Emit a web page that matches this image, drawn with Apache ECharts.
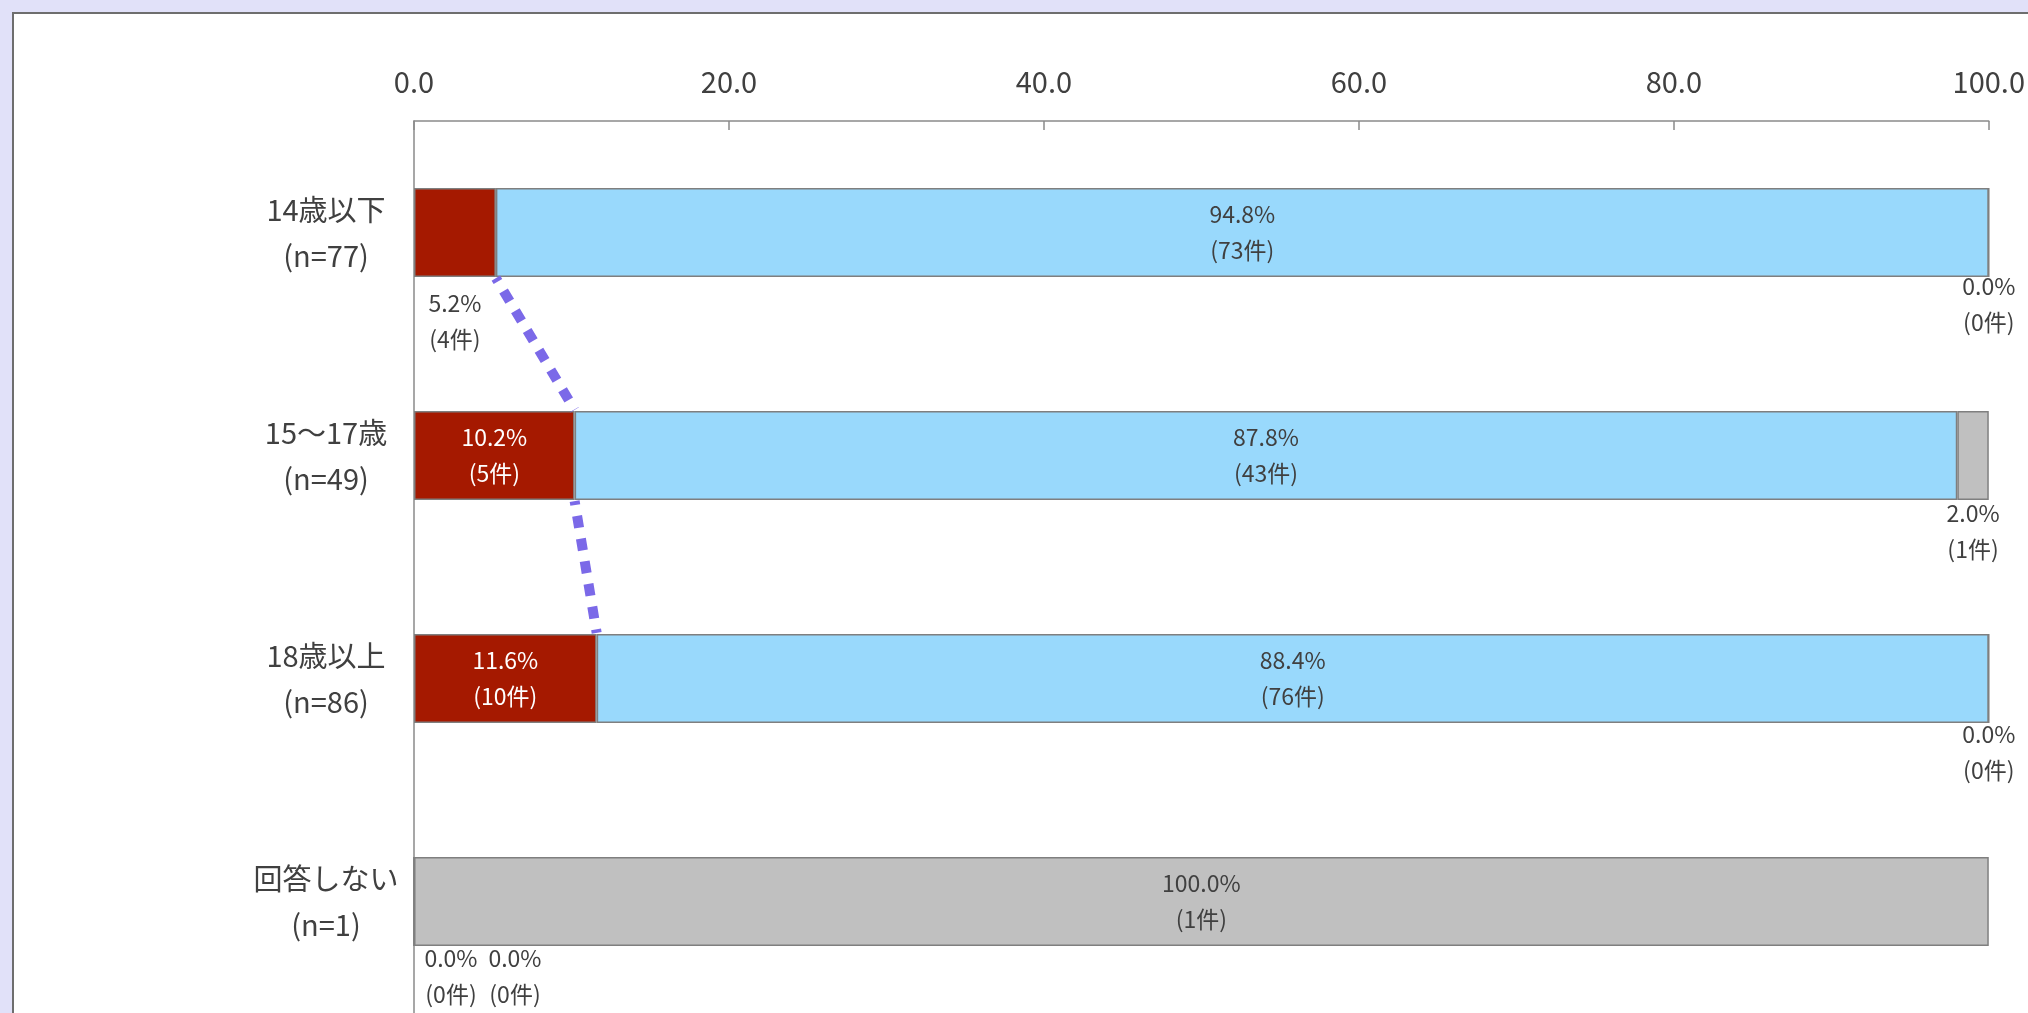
<!DOCTYPE html>
<html>
<head>
<meta charset="utf-8">
<script src="https://cdn.jsdelivr.net/npm/echarts@6/dist/echarts.min.js"></script>
<style>
  html, body { margin:0; padding:0; width:2028px; height:1013px; overflow:hidden; background:#e1e1f9; }
  #panel { position:absolute; left:12px; top:12px; width:2040px; height:1040px; background:#ffffff; border:2px solid #6e6e6e; box-sizing:border-box; }
  #chart { position:absolute; left:0; top:0; width:2028px; height:1013px; }
</style>
</head>
<body>
<div id="panel"></div>
<div id="chart"></div>
<script>
// ---- data ----
const categories = ['14歳以下', '15～17歳', '18歳以上', '回答しない'];
const sampleSizes = [77, 49, 86, 1];
const seriesNames = ['はい', 'いいえ', '無回答'];
const pctYes = [5.2, 10.2, 11.6, 0.0];
const cntYes = [4, 5, 10, 0];
const pctNo = [94.8, 87.8, 88.4, 0.0];
const cntNo = [73, 43, 76, 0];
const pctNA = [0.0, 2.0, 0.0, 100.0];
const cntNA = [0, 1, 0, 1];
const xTicks = { min: 0, max: 100, interval: 20 };

// ---- styling ----
const FONT = '"Noto Sans CJK JP", "Noto Sans", sans-serif';
const TXT = '#404040';
const colors = ['#a51900', '#99d9fc', '#c0c0c0'];
const BORDER = '#7f7f7f';

// label placement per series/category (style only)
const placements = [
  [ {pos:'bottom', dist:8, color:TXT}, {pos:'inside', color:'#ffffff'}, {pos:'inside', color:'#ffffff'}, {pos:'bottom', dist:-7, color:TXT, offset:[37,0]} ],
  [ {pos:'inside', color:TXT}, {pos:'inside', color:TXT}, {pos:'inside', color:TXT}, {pos:'bottom', dist:-7, color:TXT, offset:[101,0]} ],
  [ {pos:'bottom', dist:-10, color:TXT}, {pos:'bottom', dist:-5, color:TXT}, {pos:'bottom', dist:-8, color:TXT}, {pos:'inside', color:TXT} ]
];

function buildData(pcts, cnts, sIdx) {
  return pcts.map((v, i) => {
    const p = placements[sIdx][i];
    return {
      value: v,
      count: cnts[i],
      label: {
        show: true,
        position: p.pos,
        distance: p.dist !== undefined ? p.dist : 5,
        offset: p.offset || [0, 0],
        color: p.color
      }
    };
  });
}

function barSeries(name, pcts, cnts, sIdx) {
  return {
    name: name,
    type: 'bar',
    stack: 'total',
    barCategoryGap: '60%',
    data: buildData(pcts, cnts, sIdx),
    itemStyle: { color: colors[sIdx], borderColor: BORDER, borderWidth: 1.5 },
    label: {
      show: true,
      fontFamily: FONT,
      fontSize: 23,
      lineHeight: 36,
      align: 'center',
      formatter: (p) => p.value.toFixed(1) + '%\n(' + p.data.count + '件)'
    },
    emphasis: { disabled: true },
    silent: true,
    z: 2
  };
}

// series-line connecting the "はい" segments of consecutive groups
const connectorPairs = [];
for (let i = 0; i < 2; i++) {
  connectorPairs.push([pctYes[i], i, pctYes[i + 1], i + 1]);
}

const option = {
  animation: false,
  backgroundColor: 'transparent',
  grid: { left: 414, top: 121, width: 1575, height: 896, containLabel: false },
  xAxis: {
    type: 'value',
    position: 'top',
    min: xTicks.min, max: xTicks.max, interval: xTicks.interval,
    axisLine: { show: true, lineStyle: { color: '#8a8a8a', width: 1.5 } },
    axisTick: { show: true, inside: true, length: 9, lineStyle: { color: '#8a8a8a', width: 1.5 } },
    splitLine: { show: false },
    axisLabel: {
      margin: 25,
      fontFamily: FONT, fontSize: 29, color: TXT,
      formatter: (v) => v.toFixed(1)
    }
  },
  yAxis: {
    type: 'category',
    inverse: true,
    data: categories,
    axisLine: { show: true, lineStyle: { color: '#8a8a8a', width: 1.5 } },
    axisTick: { show: false },
    axisLabel: {
      margin: 88,
      align: 'center',
      fontFamily: FONT, fontSize: 29, lineHeight: 46, color: TXT,
      formatter: (v, i) => v + '\n(n=' + sampleSizes[i] + ')'
    }
  },
  series: [
    barSeries(seriesNames[0], pctYes, cntYes, 0),
    barSeries(seriesNames[1], pctNo, cntNo, 1),
    barSeries(seriesNames[2], pctNA, cntNA, 2),
    {
      type: 'custom',
      name: 'connector',
      silent: true,
      z: 5,
      encode: { x: [0, 2], y: [1, 3] },
      data: connectorPairs,
      renderItem: function (params, api) {
        const a = api.coord([api.value(0), api.value(1)]);
        const b = api.coord([api.value(2), api.value(3)]);
        const band = api.size([0, 1])[1];
        const half = band * 0.4 / 2;
        return {
          type: 'line',
          shape: { x1: a[0], y1: a[1] + half + 1, x2: b[0], y2: b[1] - half - 1 },
          style: { stroke: '#7b69e8', lineWidth: 10, lineDash: [12, 11], lineDashOffset: 8, lineCap: 'butt' }
        };
      }
    }
  ]
};

const chart = echarts.init(document.getElementById('chart'));
chart.setOption(option);
</script>
</body>
</html>
